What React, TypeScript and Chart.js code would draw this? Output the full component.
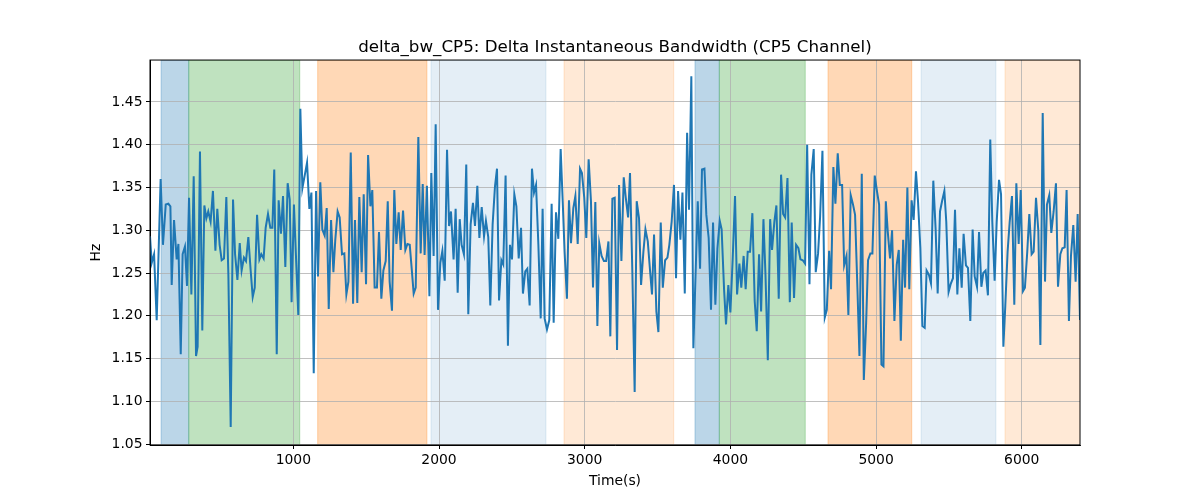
import { useEffect, useRef } from 'react';
import { Chart, registerables } from 'chart.js';

Chart.register(...registerables);

// time stamps (s) and delta bandwidth (Hz)
const times = [
  16, 28, 44, 62, 89, 105, 124, 142, 156, 165, 181, 199, 211, 227, 240, 256, 270, 284, 300, 316, 332, 343, 359, 375, 389, 403, 416, 432, 448, 465, 478, 494, 508, 524, 540, 554, 570, 586, 600, 616, 632, 645, 661, 675, 691, 707, 721, 735, 751, 767, 780, 796, 810, 826, 842, 856, 869, 886, 899, 915, 929, 945, 961, 975, 988, 1004, 1034, 1048,
  1062, 1094, 1110, 1124, 1140, 1156, 1169, 1185, 1199, 1215, 1229, 1243, 1259, 1275, 1288, 1304, 1318, 1334, 1350, 1364, 1378, 1394, 1410, 1423, 1439, 1453, 1469, 1483, 1499, 1513, 1529, 1542, 1558, 1574, 1588, 1604, 1618, 1634, 1648, 1661, 1677, 1693, 1707, 1723, 1737, 1753, 1769, 1783, 1799, 1812, 1826, 1840, 1858, 1874, 1888, 1901, 1917, 1934, 1947, 1963, 1977, 1993, 2009, 2023, 2039, 2055, 2069, 2082, 2100,
  2114, 2128, 2142, 2155, 2171, 2187, 2201, 2217, 2233, 2247, 2263, 2277, 2293, 2309, 2322, 2338, 2352, 2368, 2384, 2398, 2412, 2428, 2441, 2457, 2473, 2487, 2501, 2517, 2531, 2547, 2563, 2576, 2592, 2606, 2622, 2638, 2652, 2666, 2682, 2698, 2711, 2725, 2741, 2757, 2773, 2787, 2803, 2819, 2835, 2849, 2862, 2878, 2892, 2906, 2922, 2936, 2952, 2968, 2981, 2997, 3011, 3027, 3043, 3057, 3073, 3087, 3100, 3116, 3132,
  3147, 3163, 3176, 3190, 3206, 3222, 3236, 3252, 3268, 3282, 3298, 3311, 3327, 3343, 3357, 3373, 3387, 3403, 3417, 3433, 3449, 3462, 3476, 3492, 3506, 3522, 3536, 3552, 3568, 3581, 3597, 3613, 3627, 3641, 3657, 3671, 3687, 3703, 3716, 3732, 3746, 3776, 3792, 3805, 3822, 3835, 3851, 3867, 3881, 3897, 3911, 3927, 3940, 3957, 3970, 3986, 4000, 4016, 4032, 4046, 4062, 4075, 4091, 4105, 4119, 4135, 4151, 4167,
  4181, 4197, 4211, 4227, 4241, 4257, 4273, 4286, 4302, 4316, 4332, 4348, 4362, 4376, 4392, 4408, 4421, 4437, 4451, 4467, 4481, 4497, 4513, 4527, 4543, 4556, 4572, 4586, 4602, 4616, 4632, 4648, 4662, 4678, 4691, 4707, 4721, 4737, 4751, 4767, 4781, 4797, 4810, 4826, 4842, 4856, 4872, 4886, 4902, 4916, 4932, 4945, 4961, 4975, 4991, 5007, 5021, 5037, 5051, 5067, 5080, 5096, 5110, 5126, 5142, 5156, 5170, 5186, 5199,
  5215, 5228, 5244, 5258, 5274, 5288, 5304, 5318, 5334, 5347, 5363, 5377, 5393, 5409, 5423, 5439, 5453, 5469, 5482, 5498, 5512, 5528, 5542, 5558, 5572, 5588, 5601, 5617, 5631, 5647, 5663, 5677, 5693, 5707, 5723, 5736, 5752, 5768, 5784, 5798, 5814, 5828, 5844, 5858, 5874, 5887, 5903, 5917, 5933, 5949, 5963, 5979, 5993, 6009, 6022, 6038, 6052, 6068, 6082, 6098, 6114, 6128, 6144, 6160, 6173, 6189, 6203, 6219, 6235, 6249, 6265, 6279, 6295, 6308, 6324, 6338, 6354, 6370, 6384, 6400,
];

const values = [
  1.293, 1.262, 1.272, 1.195, 1.360, 1.283, 1.330, 1.331, 1.328, 1.236, 1.312, 1.266, 1.284, 1.155, 1.272, 1.281, 1.235, 1.338, 1.225, 1.363, 1.153, 1.164, 1.392, 1.183, 1.329, 1.314, 1.322, 1.310, 1.346, 1.276, 1.325, 1.283, 1.265, 1.267, 1.339, 1.248, 1.070, 1.336, 1.272, 1.242, 1.285, 1.253, 1.268, 1.264, 1.292, 1.253, 1.222, 1.233, 1.318, 1.266, 1.272, 1.267, 1.303, 1.319, 1.303, 1.303, 1.371, 1.155, 1.335, 1.296, 1.340, 1.257, 1.355, 1.336, 1.216, 1.330, 1.201, 1.442,
  1.349, 1.379, 1.325, 1.344, 1.133, 1.346, 1.246, 1.356, 1.301, 1.294, 1.326, 1.208, 1.312, 1.251, 1.289, 1.322, 1.315, 1.272, 1.273, 1.225, 1.240, 1.391, 1.214, 1.312, 1.215, 1.339, 1.251, 1.342, 1.237, 1.388, 1.328, 1.347, 1.233, 1.233, 1.298, 1.220, 1.253, 1.264, 1.334, 1.240, 1.206, 1.347, 1.284, 1.321, 1.277, 1.323, 1.277, 1.284, 1.283, 1.256, 1.226, 1.233, 1.409, 1.273, 1.354, 1.271, 1.352, 1.223, 1.367, 1.270, 1.424, 1.207, 1.262, 1.276, 1.241, 1.394, 1.305, 1.322, 1.266,
  1.325, 1.227, 1.313, 1.283, 1.272, 1.377, 1.202, 1.307, 1.332, 1.305, 1.352, 1.291, 1.327, 1.293, 1.311, 1.292, 1.212, 1.307, 1.351, 1.372, 1.218, 1.265, 1.260, 1.364, 1.165, 1.283, 1.266, 1.342, 1.328, 1.267, 1.303, 1.226, 1.252, 1.255, 1.212, 1.372, 1.344, 1.353, 1.283, 1.197, 1.325, 1.197, 1.184, 1.195, 1.331, 1.192, 1.321, 1.290, 1.395, 1.334, 1.275, 1.220, 1.335, 1.285, 1.326, 1.340, 1.284, 1.372, 1.367, 1.338, 1.291, 1.383, 1.334, 1.233, 1.333, 1.188, 1.285, 1.270, 1.264,
  1.264, 1.287, 1.176, 1.337, 1.338, 1.160, 1.353, 1.264, 1.362, 1.338, 1.315, 1.367, 1.252, 1.111, 1.334, 1.314, 1.236, 1.275, 1.301, 1.287, 1.252, 1.225, 1.295, 1.205, 1.181, 1.309, 1.233, 1.265, 1.268, 1.283, 1.310, 1.353, 1.244, 1.346, 1.289, 1.344, 1.226, 1.414, 1.324, 1.480, 1.162, 1.334, 1.255, 1.371, 1.372, 1.318, 1.291, 1.207, 1.309, 1.213, 1.279, 1.311, 1.301, 1.230, 1.190, 1.236, 1.204, 1.267, 1.340, 1.225, 1.261, 1.233, 1.270, 1.231, 1.275, 1.275, 1.320, 1.217,
  1.182, 1.272, 1.205, 1.313, 1.248, 1.148, 1.313, 1.277, 1.310, 1.329, 1.220, 1.365, 1.319, 1.315, 1.361, 1.216, 1.309, 1.221, 1.283, 1.279, 1.266, 1.265, 1.261, 1.400, 1.237, 1.365, 1.395, 1.251, 1.273, 1.316, 1.393, 1.198, 1.207, 1.276, 1.231, 1.374, 1.331, 1.390, 1.353, 1.353, 1.259, 1.270, 1.201, 1.341, 1.330, 1.318, 1.233, 1.153, 1.366, 1.125, 1.192, 1.265, 1.273, 1.273, 1.364, 1.345, 1.330, 1.143, 1.141, 1.334, 1.299, 1.267, 1.300, 1.194, 1.260, 1.277, 1.171, 1.289, 1.233,
  1.350, 1.231, 1.335, 1.312, 1.369, 1.334, 1.279, 1.188, 1.186, 1.253, 1.248, 1.238, 1.358, 1.301, 1.226, 1.322, 1.334, 1.346, 1.310, 1.228, 1.237, 1.244, 1.324, 1.225, 1.279, 1.233, 1.296, 1.259, 1.256, 1.194, 1.301, 1.246, 1.234, 1.298, 1.234, 1.250, 1.253, 1.224, 1.406, 1.310, 1.241, 1.309, 1.359, 1.342, 1.164, 1.211, 1.275, 1.309, 1.340, 1.213, 1.355, 1.284, 1.347, 1.229, 1.233, 1.275, 1.319, 1.272, 1.275, 1.338, 1.299, 1.166, 1.437, 1.240, 1.330, 1.341, 1.297, 1.322, 1.355, 1.234, 1.272, 1.279, 1.280, 1.347, 1.194, 1.270, 1.306, 1.240, 1.319, 1.195,
];

// shaded phases (start / end in seconds)
const spanStarts = [92, 282, 1167, 1945, 2858, 3757, 3924, 4670, 5309, 5885];
const spanEnds = [282, 1044, 1917, 2734, 3611, 3924, 4514, 5245, 5823, 6450];
const spanKinds = ['blue', 'green', 'orange', 'paleBlue', 'paleOrange', 'blue', 'green', 'orange', 'paleBlue', 'paleOrange'];

const xTicks = [1000, 2000, 3000, 4000, 5000, 6000];
const yTicks = [1.05, 1.1, 1.15, 1.2, 1.25, 1.3, 1.35, 1.4, 1.45];

const SPAN_COLORS: Record<string, string> = {
  blue: 'rgba(31, 119, 180, 0.3)',
  green: 'rgba(44, 160, 44, 0.3)',
  orange: 'rgba(255, 127, 14, 0.3)',
  paleBlue: 'rgba(31, 119, 180, 0.12)',
  paleOrange: 'rgba(255, 127, 14, 0.17)',
};

const FONT = 'DejaVu Sans';

const spanPlugin = {
  id: 'spans',
  beforeDraw(chart: any) {
    const { ctx, chartArea, scales } = chart;
    ctx.save();
    ctx.beginPath();
    ctx.rect(chartArea.left, chartArea.top, chartArea.right - chartArea.left, chartArea.bottom - chartArea.top);
    ctx.clip();
    spanStarts.forEach((s, i) => {
      const x0 = scales.x.getPixelForValue(s);
      const x1 = scales.x.getPixelForValue(spanEnds[i]);
      const c = SPAN_COLORS[spanKinds[i]];
      ctx.fillStyle = c;
      ctx.fillRect(x0, chartArea.top, x1 - x0, chartArea.bottom - chartArea.top);
      ctx.strokeStyle = c;
      ctx.lineWidth = 1;
      ctx.strokeRect(x0, chartArea.top, x1 - x0, chartArea.bottom - chartArea.top);
    });
    ctx.restore();
  },
  afterDraw(chart: any) {
    // full box round the axes like matplotlib spines
    const { ctx, chartArea } = chart;
    ctx.save();
    ctx.strokeStyle = '#000';
    ctx.lineWidth = 1;
    ctx.strokeRect(chartArea.left, chartArea.top, chartArea.right - chartArea.left, chartArea.bottom - chartArea.top);
    ctx.restore();
  },
};

export default function App() {
  const canvasRef = useRef<HTMLCanvasElement>(null);

  useEffect(() => {
    if (!canvasRef.current) return;
    const points = times.map((t, i) => ({ x: t, y: values[i] }));
    const chart = new Chart(canvasRef.current, {
      type: 'line',
      data: {
        datasets: [
          {
            label: 'delta_bw_CP5',
            data: points,
            borderColor: '#1f77b4',
            borderWidth: 2,
            pointRadius: 0,
            tension: 0,
            fill: false,
          },
        ],
      },
      options: {
        responsive: false,
        animation: false,
        layout: { padding: { top: 0, right: 120, bottom: 0, left: 0 } },
        plugins: {
          legend: { display: false },
          tooltip: { enabled: false },
          title: {
            display: true,
            text: 'delta_bw_CP5: Delta Instantaneous Bandwidth (CP5 Channel)',
            color: '#000',
            font: { family: FONT, size: 16.7, weight: 'normal' },
            padding: { top: 38, bottom: 2 },
            fullSize: false,
          },
        },
        scales: {
          x: {
            type: 'linear',
            min: times[0],
            max: times[times.length - 1],
            afterBuildTicks: (s: any) => {
              s.ticks = xTicks.map((v) => ({ value: v }));
            },
            ticks: {
              color: '#000',
              font: { family: FONT, size: 13.9 },
              padding: 3,
              maxRotation: 0,
              autoSkip: false,
              callback: (v: any) => String(v),
            },
            grid: { color: '#b0b0b0', lineWidth: 0.8, tickColor: '#000', tickLength: 4, tickWidth: 1 },
            border: { color: '#000', width: 1 },
            title: {
              display: true,
              text: 'Time(s)',
              color: '#000',
              font: { family: FONT, size: 13.9 },
              padding: { top: 2, bottom: 10.5 },
            },
            afterFit: (s: any) => {
              s.height = 55;
            },
          },
          y: {
            type: 'linear',
            min: 1.049,
            max: 1.499,
            afterBuildTicks: (s: any) => {
              s.ticks = yTicks.map((v) => ({ value: v }));
            },
            ticks: {
              color: '#000',
              font: { family: FONT, size: 13.9 },
              padding: 3.5,
              autoSkip: false,
              callback: (v: any) => Number(v).toFixed(2),
            },
            grid: { color: '#b0b0b0', lineWidth: 0.8, tickColor: '#000', tickLength: 4, tickWidth: 1 },
            border: { color: '#000', width: 1 },
            title: {
              display: true,
              text: 'Hz',
              color: '#000',
              font: { family: FONT, size: 13.9 },
              padding: { top: 88.5, bottom: 0 },
            },
            afterFit: (s: any) => {
              s.width = 150;
            },
          },
        },
      },
      plugins: [spanPlugin],
    });
    return () => chart.destroy();
  }, []);

  return (
    <div style={{ position: 'absolute', left: 0, top: 0, width: 1200, height: 500, background: '#fff' }}>
      <canvas ref={canvasRef} width={1200} height={500} />
    </div>
  );
}
